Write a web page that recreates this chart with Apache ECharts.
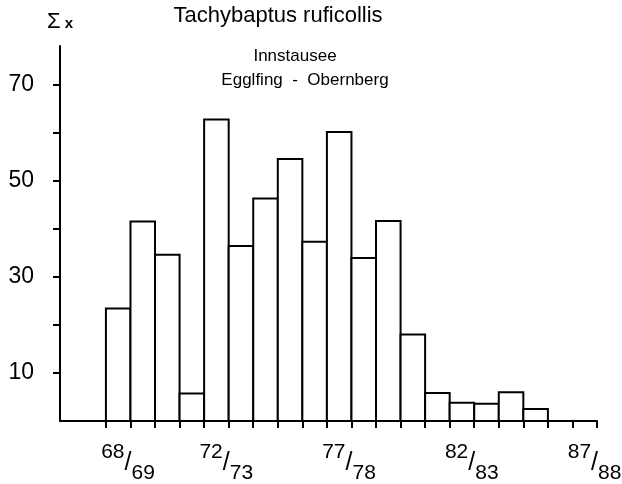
<!DOCTYPE html>
<html>
<head>
<meta charset="utf-8">
<script src="https://cdn.jsdelivr.net/npm/echarts@6/dist/echarts.min.js"></script>
<style>
  html, body { margin: 0; padding: 0; background: #fff; }
  #chart { width: 622px; height: 484px; }
</style>
</head>
<body>
<div id="chart"></div>
<script>
// winter seasons, one bar each
const seasons = ["68/69", "69/70", "70/71", "71/72", "72/73", "73/74", "74/75", "75/76", "76/77", "77/78",
  "78/79", "79/80", "80/81", "81/82", "82/83", "83/84", "84/85", "85/86", "86/87", "87/88"];
// Σx per season
const counts = [23.4, 41.5, 34.6, 5.7, 62.7, 36.4, 46.3, 54.5, 37.3, 60.1,
  33.9, 41.6, 18.0, 5.8, 3.8, 3.6, 6.0, 2.5];
const yTicks = [10, 20, 30, 40, 50, 60, 70];
const yLabels = [10, 30, 50, 70];
const xLabelIdx = [0, 4, 9, 14, 19];
const xTicks = seasons.map((s, i) => i).concat([seasons.length]);

// labels sit a bit right of their tick, like the hand lettering
const labelShift = 0.9;
const font = "Liberation Sans";
const chart = echarts.init(document.getElementById("chart"));

const option = {
  backgroundColor: "#fff",
  animation: false,
  title: [
    {
      text: "Tachybaptus ruficollis",
      left: 278,
      top: 5,
      padding: 0,
      textAlign: "center",
      textStyle: { fontFamily: font, fontSize: 22, fontWeight: "normal", color: "#000" },
    },
    {
      text: "Innstausee",
      left: 295,
      top: 48,
      padding: 0,
      textAlign: "center",
      textStyle: { fontFamily: font, fontSize: 17, fontWeight: "normal", color: "#000" },
    },
    {
      text: "Egglfing  -  Obernberg",
      left: 305,
      top: 72,
      padding: 0,
      textAlign: "center",
      textStyle: { fontFamily: font, fontSize: 17, fontWeight: "normal", color: "#000" },
    },
  ],
  grid: { left: 60, right: 25, top: 46, bottom: 63, outerBoundsMode: "none" },
  xAxis: {
    type: "value",
    min: -1.87,
    max: 20,
    splitLine: { show: false },
    axisLine: { onZero: false, lineStyle: { color: "#000", width: 2 } },
    axisTick: {
      customValues: xTicks,
      length: 7,
      lineStyle: { color: "#000", width: 2 },
    },
    axisLabel: {
      customValues: xLabelIdx.map((i) => i + labelShift),
      align: "center",
      margin: 21,
      formatter: (v) => {
        const p = seasons[Math.round(v - labelShift)].split("/");
        return "{a|" + p[0] + "}{s|/}{b|" + p[1] + "}";
      },
      rich: {
        a: { fontFamily: font, fontSize: 21, color: "#000", verticalAlign: "top", lineHeight: 42 },
        s: { fontFamily: font, fontSize: 25, color: "#000", verticalAlign: "middle", lineHeight: 42 },
        b: { fontFamily: font, fontSize: 21, color: "#000", verticalAlign: "bottom", lineHeight: 42 },
      },
    },
  },
  yAxis: {
    type: "value",
    min: 0,
    max: 78,
    name: "{s|Σ}{x|x}",
    nameLocation: "end",
    nameGap: 13,
    nameTextStyle: {
      rich: {
        s: { fontFamily: font, fontSize: 22, color: "#000" },
        x: { fontFamily: font, fontSize: 15, fontWeight: "bold", color: "#000", padding: [3, 0, 0, 4] },
      },
    },
    splitLine: { show: false },
    axisLine: { show: true, onZero: false, lineStyle: { color: "#000", width: 2 } },
    axisTick: {
      show: true,
      customValues: yTicks,
      length: 7,
      lineStyle: { color: "#000", width: 2 },
    },
    axisLabel: {
      customValues: yLabels,
      margin: 26,
      fontFamily: font,
      fontSize: 23,
      color: "#000",
    },
  },
  series: [
    {
      type: "custom",
      data: counts.map((v, i) => [i, v]),
      renderItem: (params, api) => {
        const i = api.value(0);
        const top = api.coord([i, api.value(1)]);
        const bottom = api.coord([i + 1, 0]);
        return {
          type: "rect",
          shape: { x: top[0], y: top[1], width: bottom[0] - top[0], height: bottom[1] - top[1] },
          style: { fill: "#fff", stroke: "#000", lineWidth: 2 },
        };
      },
    },
  ],
};

chart.setOption(option);
</script>
</body>
</html>
